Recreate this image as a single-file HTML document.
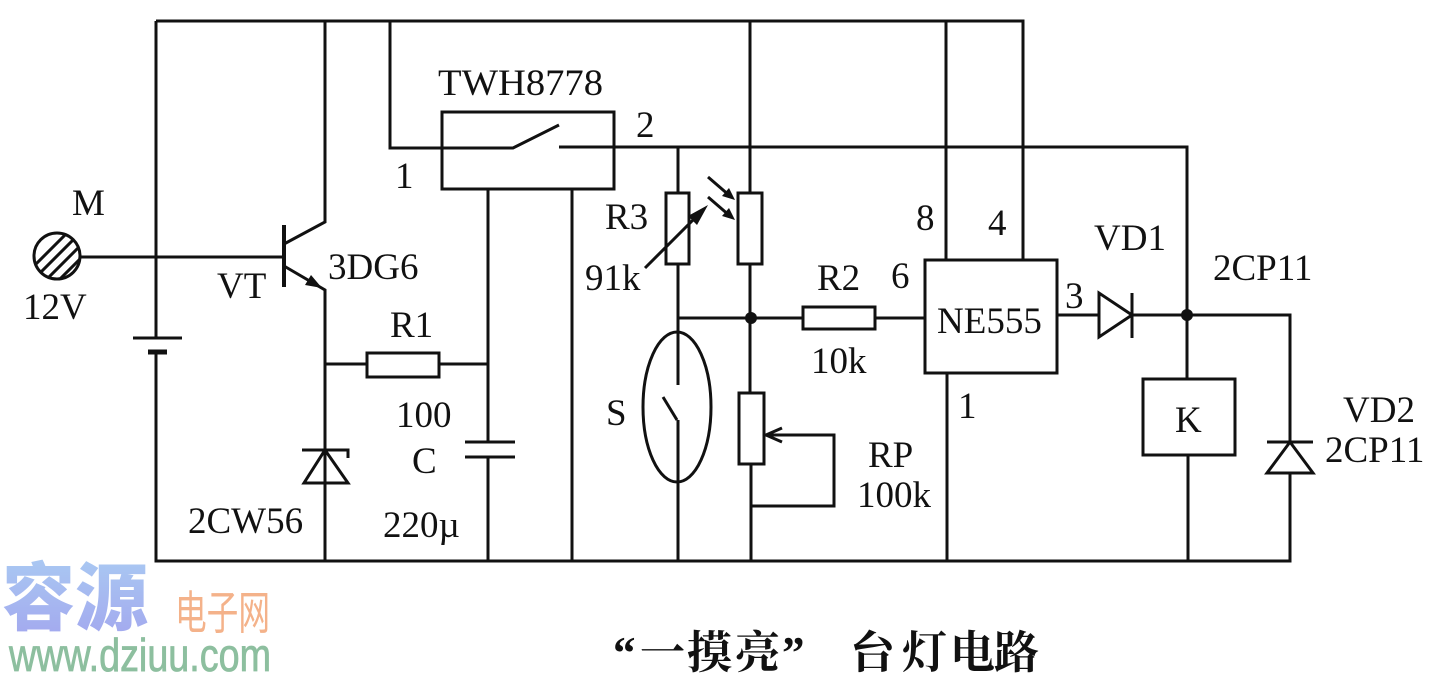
<!DOCTYPE html>
<html><head><meta charset="utf-8"><style>
html,body{margin:0;padding:0;background:#fff;width:1440px;height:678px;overflow:hidden}
svg{display:block}
.t{font-family:"Liberation Serif",serif;font-size:37px;fill:#111}
</style></head><body>
<svg width="1440" height="678" viewBox="0 0 1440 678" xmlns="http://www.w3.org/2000/svg">
<defs>
<clipPath id="mc"><circle cx="57" cy="256" r="22"/></clipPath>
<linearGradient id="wg" x1="0" y1="0" x2="0" y2="1"><stop offset="0" stop-color="#abd0f3"/><stop offset="1" stop-color="#a2a5ee"/></linearGradient>
</defs>
<rect width="1440" height="678" fill="#fff"/>
<g stroke="#111" stroke-width="3" fill="none" stroke-linejoin="miter">
<path d="M156 21 H1023 V260"/>
<path d="M156 21 V338"/>
<path d="M156 352 V561 H1290 V473"/>
<path d="M133 338 H182"/>
<path d="M148 352 H167" stroke-width="5"/>
<circle cx="57" cy="256" r="23"/>
<g clip-path="url(#mc)" stroke-width="3">
<path d="M20 280 L100 200"/><path d="M20 293 L100 213"/><path d="M20 306 L100 226"/><path d="M20 319 L100 239"/>
</g>
<path d="M81 257 H284"/>
<path d="M284 225 V287" stroke-width="4"/>
<path d="M325 21 V222 L284 244"/>
<path d="M284 266 L325 290 V561"/>
<path d="M325 364 H367"/>
<rect x="367" y="353" width="72" height="24"/>
<path d="M439 364 H488"/>
<rect x="442" y="112" width="172" height="77"/>
<path d="M390 21 V148 H513 L559 125"/>
<path d="M559 147 H1187 V379"/>
<path d="M488 189 V442"/>
<path d="M465 442 H515"/><path d="M465 457 H515"/>
<path d="M488 457 V561"/>
<path d="M572 189 V561"/>
<path d="M302 450 H348 V458"/>
<path d="M304 483 H348 L325 450 Z"/>
<path d="M678 147 V193"/>
<rect x="666" y="193" width="23" height="71"/>
<path d="M678 264 V385"/>
<path d="M663 397 L677 420"/>
<path d="M678 420 V561"/>
<path d="M678 318 H803"/>
<rect x="803" y="307" width="72" height="22"/>
<path d="M875 318 H925"/>
<ellipse cx="677" cy="407" rx="34" ry="75"/>
<path d="M750 21 V193"/>
<rect x="738" y="193" width="24" height="71"/>
<path d="M750 264 V393"/>
<rect x="739" y="393" width="25" height="71"/>
<path d="M751 464 V561"/>
<path d="M766 435 H834 V506 H751"/>
<path d="M782 428 L766 435 L782 442"/>
<rect x="925" y="260" width="132" height="113"/>
<path d="M946 21 V260"/>
<path d="M947 373 V561"/>
<path d="M1057 315 H1099"/>
<path d="M1099 293 L1099 337 L1132 315 Z"/>
<path d="M1132 293 V338"/>
<path d="M1132 315 H1290 V442"/>
<rect x="1143" y="379" width="92" height="76"/>
<path d="M1188 455 V561"/>
<path d="M1267 442 H1313"/>
<path d="M1267 473 H1313 L1290 442 Z"/>
<path d="M645 268 L700 213"/>
<path d="M708 177 L730 196"/>
<path d="M708 197 L730 216"/>
</g>
<g fill="#111" stroke="none">
<polygon points="322,288 305,285 311,275"/>
<polygon points="708,205 697,225 688,216"/>
<polygon points="735,200 722,196 729,188"/>
<polygon points="735,220 722,216 729,208"/>
<circle cx="751" cy="318" r="6"/>
<circle cx="1187" cy="315" r="6"/>
</g>
<g class="t">
<text x="72" y="215">M</text>
<text x="23" y="319">12V</text>
<text x="217" y="298">VT</text>
<text x="328" y="279">3DG6</text>
<text x="438" y="95" textLength="165" lengthAdjust="spacingAndGlyphs">TWH8778</text>
<text x="395" y="188">1</text>
<text x="636" y="137">2</text>
<text x="390" y="337">R1</text>
<text x="396" y="427">100</text>
<text x="412" y="473">C</text>
<text x="383" y="537">220µ</text>
<text x="188" y="533">2CW56</text>
<text x="605" y="229">R3</text>
<text x="585" y="290">91k</text>
<text x="606" y="425">S</text>
<text x="817" y="290">R2</text>
<text x="891" y="288">6</text>
<text x="916" y="230">8</text>
<text x="988" y="235">4</text>
<text x="811" y="373">10k</text>
<text x="937" y="333">NE555</text>
<text x="958" y="418">1</text>
<text x="868" y="467">RP</text>
<text x="857" y="507">100k</text>
<text x="1065" y="308">3</text>
<text x="1094" y="250">VD1</text>
<text x="1213" y="280">2CP11</text>
<text x="1175" y="432">K</text>
<text x="1343" y="422">VD2</text>
<text x="1325" y="462">2CP11</text>
</g>
<g font-family="'Noto Serif CJK SC','Noto Sans CJK SC',serif" font-size="45" font-weight="700" fill="#111">
<text x="613" y="668" font-family="'Liberation Serif',serif">“</text>
<text x="640" y="668">一</text>
<text x="687" y="668">摸</text>
<text x="735" y="668">亮</text>
<text x="782" y="668" font-family="'Liberation Serif',serif">”</text>
<text x="850" y="668">台</text>
<text x="902" y="668">灯</text>
<text x="950" y="668">电</text>
<text x="994" y="668">路</text>
</g>
<text x="2" y="624" font-family="'Noto Sans CJK SC',sans-serif" font-size="74" font-weight="900" fill="url(#wg)" textLength="146" lengthAdjust="spacingAndGlyphs">容源</text>
<text x="175" y="629" font-family="'Noto Sans CJK SC',sans-serif" font-size="46" fill="#f4b28a" textLength="95" lengthAdjust="spacingAndGlyphs">电子网</text>
<text x="9" y="671" font-family="'Liberation Sans',sans-serif" font-size="46" fill="#8dbf9f" stroke="#8dbf9f" stroke-width="0.8" textLength="262" lengthAdjust="spacingAndGlyphs">www.dziuu.com</text>
</svg>
</body></html>
